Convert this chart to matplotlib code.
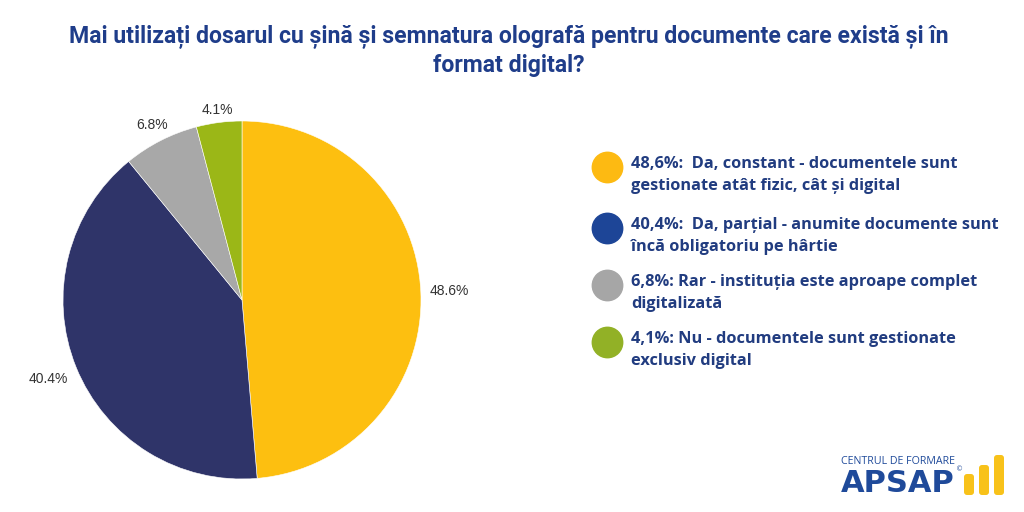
import numpy as np
import matplotlib
matplotlib.use("Agg")
import matplotlib.pyplot as plt
from matplotlib.patches import FancyBboxPatch

title = "Mai utilizați dosarul cu șină și semnatura olografă pentru documente care există și în\nformat digital?"
values = [48.6, 40.4, 6.8, 4.1]
pct_labels = ["48.6%", "40.4%", "6.8%", "4.1%"]
legend_texts = [
    "48,6%:  Da, constant - documentele sunt\ngestionate atât fizic, cât și digital",
    "40,4%:  Da, parțial - anumite documente sunt\nîncă obligatoriu pe hârtie",
    "6,8%: Rar - instituția este aproape complet\ndigitalizată",
    "4,1%: Nu - documentele sunt gestionate\nexclusiv digital",
]
pie_colors = ["#FDBF10", "#2F3469", "#A8A8A8", "#9BB717"]
dot_colors = ["#FDBA12", "#1D4597", "#A6A6A6", "#92B126"]
label_dist = [1.16, 1.17, 1.1, 1.07]

W, H = 1024, 512
fig = plt.figure(figsize=(W / 100, H / 100), dpi=100)
fig.patch.set_facecolor("white")

ov = fig.add_axes([0, 0, 1, 1])
ov.set_xlim(0, W)
ov.set_ylim(H, 0)
ov.axis("off")

cx, cy, r = 242, 300, 179
ax = fig.add_axes([(cx - r) / W, (H - cy - r) / H, 2 * r / W, 2 * r / H])
wedges, _ = ax.pie(values, colors=pie_colors, startangle=90, counterclock=False,
                   wedgeprops=dict(linewidth=0.4, edgecolor="white"))
ax.set_xlim(-1, 1)
ax.set_ylim(-1, 1)
ax.set_aspect("auto")
for w, lab, d in zip(wedges, pct_labels, label_dist):
    ang = np.deg2rad((w.theta1 + w.theta2) / 2)
    ax.text(d * np.cos(ang), d * np.sin(ang), lab, ha="center", va="center",
            fontsize=10, color="#333333", family="Liberation Sans", clip_on=False)

title_color = "#1F3D8A"
ov.text(509, 51, title, ha="center", va="center", fontsize=16.6, fontweight="bold",
        color=title_color, family="Roboto", linespacing=1.3)

text_color = "#213C80"
item_y = [175, 236, 293, 350]
for yy, txt, c in zip(item_y, legend_texts, dot_colors):
    ov.scatter([607], [yy - 8], s=480, color=c, zorder=3)
    ov.text(631, yy, txt, ha="left", va="center", fontsize=11.8, fontweight="bold",
            color=text_color, family="Open Sans", linespacing=1.42)

# logo
ov.text(898, 461, "CENTRUL DE FORMARE", ha="center", va="center", fontsize=7.7,
        color="#1F4A9A", family="Open Sans")
ov.text(898, 484, "APSAP", ha="center", va="center", fontsize=22, fontweight="bold",
        color="#1F4A9A", family="DejaVu Sans")
ov.text(960, 469, "©", ha="center", va="center", fontsize=5, color="#1F4A9A")
for bx, top in [(964, 474), (979, 465), (994, 455)]:
    ov.add_patch(FancyBboxPatch((bx, top), 10, 495 - top,
                                boxstyle="round,pad=0,rounding_size=3",
                                color="#F8C21A", lw=0))

fig.savefig("out.png", dpi=100, facecolor="white")
